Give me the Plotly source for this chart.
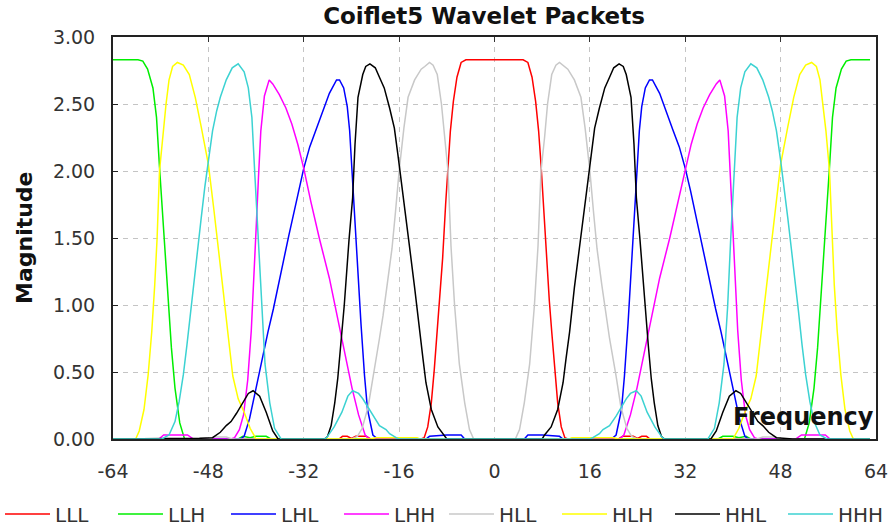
import plotly.graph_objects as go

# Positive-frequency halves of each magnitude response (curves are symmetric about 0)
LLL_f = [0, 4.8, 5.6, 6.3, 6.9, 7.4, 7.8, 8.2, 8.7, 9.2, 9.6, 10.1, 10.6, 11.2, 11.8, 12.3, 20.8, 21.5, 23.3, 24.0, 24.7, 25.5, 26.1, 64]
LLL_m = [2.83, 2.83, 2.81, 2.70, 2.52, 2.30, 2.05, 1.75, 1.35, 1.03, 0.80, 0.52, 0.27, 0.09, 0.01, 0, 0, 0.02, 0.02, 0.005, 0.02, 0.02, 0, 0]

LLH_f = [0, 37.5, 38.3, 40.0, 41.0, 42.2, 43.0, 52.0, 52.8, 53.6, 54.2, 54.7, 55.2, 55.7, 56.2, 56.7, 57.3, 58.2, 59.0, 59.8, 64]
LLH_m = [0, 0, 0.02, 0.02, 0.01, 0.02, 0, 0, 0.12, 0.38, 0.68, 1.0, 1.38, 1.68, 2.03, 2.4, 2.62, 2.76, 2.82, 2.83, 2.83]

LHL_f = [0, 5.0, 5.6, 8.0, 10.9, 11.5, 19.6, 20.4, 21.3, 21.8, 22.4, 22.7, 23.0, 23.3, 23.6, 24.0, 24.3, 24.7, 25.3, 26.0, 26.5, 27.7, 28.8, 29.9, 31.0, 32.0, 32.9, 33.7, 34.5, 35.4, 36.2, 37.1, 38.0, 38.9, 40.0, 41.1, 42.0, 42.6, 64]
LHL_m = [0, 0, 0.03, 0.03, 0.02, 0, 0, 0.03, 0.22, 0.47, 0.86, 1.1, 1.3, 1.5, 1.8, 2.06, 2.3, 2.48, 2.62, 2.68, 2.68, 2.58, 2.44, 2.31, 2.18, 2.02, 1.85, 1.68, 1.52, 1.33, 1.15, 0.97, 0.8, 0.62, 0.38, 0.15, 0.02, 0, 0]

LHH_f = [0, 21.0, 21.7, 22.8, 23.9, 25.2, 26.6, 27.7, 29.4, 30.8, 32.0, 33.0, 34.0, 35.0, 36.1, 37.2, 37.8, 38.6, 39.2, 39.6, 40.0, 40.4, 40.8, 41.4, 42.1, 42.8, 43.6, 44.2, 50.5, 51.5, 55.5, 56.3, 64]
LHH_m = [0, 0, 0.03, 0.18, 0.38, 0.66, 0.96, 1.2, 1.5, 1.77, 2.02, 2.2, 2.35, 2.47, 2.57, 2.65, 2.68, 2.56, 2.3, 1.95, 1.56, 1.15, 0.81, 0.44, 0.18, 0.07, 0.01, 0, 0, 0.03, 0.03, 0, 0]

HLL_f = [0, 3.5, 4.2, 5.0, 5.9, 6.7, 7.3, 7.8, 8.4, 8.9, 9.6, 10.3, 10.9, 11.7, 12.3, 13.4, 14.5, 15.2, 16.0, 16.6, 17.2, 18.0, 18.7, 19.3, 20.4, 21.2, 22.2, 23.0, 24.0, 44.0, 45.0, 47.0, 48.0, 64]
HLL_m = [0, 0, 0.07, 0.27, 0.56, 1.0, 1.44, 2.0, 2.25, 2.5, 2.72, 2.79, 2.81, 2.78, 2.76, 2.68, 2.55, 2.32, 2.0, 1.7, 1.42, 1.15, 0.92, 0.75, 0.47, 0.24, 0.08, 0.02, 0, 0, 0.015, 0.015, 0, 0]

HLH_f = [0, 12.5, 13.0, 20.0, 20.8, 40.0, 41.0, 42.0, 43.0, 43.9, 44.7, 45.5, 46.4, 47.1, 48.0, 49.2, 50.2, 51.2, 52.2, 53.2, 54.0, 54.6, 55.1, 55.6, 56.2, 56.6, 57.0, 57.5, 58.1, 58.8, 59.6, 60.2, 64]
HLH_m = [0, 0, 0.01, 0.01, 0, 0, 0.08, 0.2, 0.3, 0.47, 0.78, 1.1, 1.46, 1.72, 2.05, 2.33, 2.55, 2.72, 2.79, 2.81, 2.78, 2.68, 2.5, 2.3, 2.0, 1.5, 1.15, 0.8, 0.48, 0.22, 0.06, 0, 0]

HHL_f = [0, 8.0, 8.4, 9.5, 10.6, 11.5, 12.0, 12.6, 13.4, 14.3, 15.4, 16.2, 16.8, 17.6, 18.5, 19.3, 20.0, 20.9, 21.6, 22.1, 22.9, 23.4, 23.8, 24.4, 25.2, 25.8, 26.3, 26.8, 27.4, 28.0, 28.5, 36.3, 37.2, 38.3, 39.4, 40.5, 41.3, 42.1, 43.3, 44.2, 45.0, 46.0, 47.3, 49.5, 50.0, 64]
HHL_m = [0, 0, 0.03, 0.09, 0.22, 0.42, 0.6, 0.8, 1.13, 1.45, 1.85, 2.12, 2.32, 2.47, 2.62, 2.7, 2.77, 2.80, 2.78, 2.72, 2.55, 2.2, 1.8, 1.49, 1.0, 0.70, 0.45, 0.27, 0.1, 0.02, 0, 0, 0.06, 0.2, 0.32, 0.36, 0.34, 0.28, 0.19, 0.13, 0.1, 0.05, 0.01, 0.005, 0, 0]

HHH_f = [0, 16.0, 16.5, 17.6, 18.2, 19.3, 20.4, 21.0, 22.1, 22.8, 23.8, 24.6, 25.6, 26.9, 28.0, 28.5, 35.8, 36.9, 37.7, 38.5, 39.1, 39.6, 40.2, 40.7, 41.3, 42.0, 43.0, 44.0, 45.0, 46.0, 46.6, 47.3, 48.0, 48.6, 49.2, 49.8, 50.4, 51.0, 51.6, 52.2, 52.9, 53.6, 54.6, 55.8, 64]
HHH_m = [0, 0, 0.01, 0.04, 0.07, 0.10, 0.17, 0.22, 0.30, 0.34, 0.36, 0.32, 0.2, 0.09, 0.02, 0, 0, 0.08, 0.27, 0.56, 0.98, 1.47, 1.97, 2.4, 2.62, 2.74, 2.80, 2.77, 2.68, 2.55, 2.45, 2.3, 2.08, 1.88, 1.65, 1.42, 1.2, 0.95, 0.7, 0.48, 0.28, 0.13, 0.03, 0, 0]

series_names = ["LLL", "LLH", "LHL", "LHH", "HLL", "HLH", "HHL", "HHH"]
series_f = [LLL_f, LLH_f, LHL_f, LHH_f, HLL_f, HLH_f, HHL_f, HHH_f]
series_m = [LLL_m, LLH_m, LHL_m, LHH_m, HLL_m, HLH_m, HHL_m, HHH_m]
colors = ["#ff0000", "#00ee00", "#0000ff", "#ff00ff", "#c8c8c8", "#ffff00", "#000000", "#3cd2d2"]

x_ticks = [-64, -48, -32, -16, 0, 16, 32, 48, 64]
y_ticks = [0, 0.5, 1.0, 1.5, 2.0, 2.5, 3.0]
F_MAX = 63  # last frequency sample on the positive side


def full_curve(f, m):
    xs = [-v for v in reversed(f)] + [min(v, F_MAX) for v in f[1:]]
    ys = list(reversed(m)) + list(m[1:])
    return xs, ys


fig = go.Figure()
for i, (name, f, m, c) in enumerate(zip(series_names, series_f, series_m, colors)):
    xs, ys = full_curve(f, m)
    fig.add_trace(go.Scatter(x=xs, y=ys, mode="lines", name=name,
                             legend="legend" if i < 4 else "legend2",
                             line=dict(color=c, width=1.5)))

# invisible trace so the top tick axis is drawn
fig.add_trace(go.Scatter(x=[-64, 64], y=[None, None], xaxis="x2", showlegend=False,
                         hoverinfo="skip", mode="lines"))

font_family = "DejaVu Sans"
legend_common = dict(orientation="h", xref="container", yref="paper",
                     xanchor="left", y=-(514 - 439) / 402, yanchor="middle",
                     font=dict(family=font_family, size=20, color="#333"),
                     entrywidth=53, entrywidthmode="pixels", itemwidth=45,
                     bgcolor="rgba(0,0,0,0)", borderwidth=0, tracegroupgap=0)

fig.update_layout(
    width=895, height=532, autosize=False,
    margin=dict(l=113, r=19, t=37, b=93, autoexpand=False),
    paper_bgcolor="white", plot_bgcolor="white",
    title=dict(text="Coiflet5 Wavelet Packets", x=484 / 895, xanchor="center",
               y=1 - 16 / 532, yanchor="middle",
               font=dict(family=font_family, size=23, color="#111", weight="bold")),
    showlegend=True,
    legend=dict(x=0.0, **legend_common),
    legend2=dict(x=444 / 895, **legend_common),
    xaxis=dict(range=[-64, 64], tickvals=x_ticks, ticktext=[str(v) for v in x_ticks],
               showgrid=True, gridcolor="#c4c4c4", griddash="5px,5px", gridwidth=1,
               showline=True, linecolor="#222", linewidth=2, mirror=True,
               ticks="", zeroline=False, ticklabelstandoff=14,
               tickfont=dict(family=font_family, size=19, color="#333")),
    xaxis2=dict(range=[-64, 64], tickvals=x_ticks, overlaying="x", side="top",
                showticklabels=False, ticks="inside", ticklen=5, tickcolor="#333",
                showgrid=False, showline=False, zeroline=False),
    yaxis=dict(range=[0, 3], tickvals=y_ticks, tickformat=".2f",
               showgrid=True, gridcolor="#c4c4c4", griddash="5px,5px", gridwidth=1,
               showline=True, linecolor="#222", linewidth=2, mirror=True,
               ticks="inside", ticklen=5, tickcolor="#222", zeroline=False,
               ticklabelstandoff=12,
               tickfont=dict(family=font_family, size=19, color="#333")),
    annotations=[
        dict(text="Magnitude", xref="paper", yref="paper", x=(24 - 113) / 763, y=0.5,
             xanchor="center", yanchor="middle", textangle=-90, showarrow=False,
             font=dict(family=font_family, size=22, color="#111", weight="bold")),
        dict(text="Frequency", xref="paper", yref="paper", x=1, y=0,
             xanchor="right", yanchor="bottom", yshift=6, xshift=0,
             showarrow=False,
             font=dict(family=font_family, size=24, color="#111", weight="bold")),
    ],
)

fig.write_html("out.html")
